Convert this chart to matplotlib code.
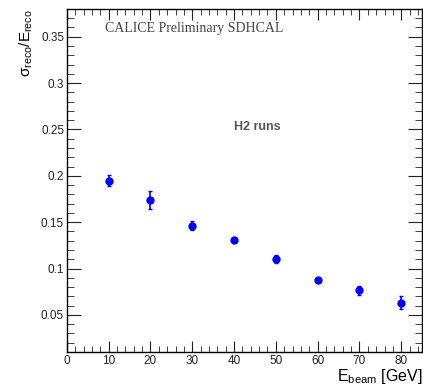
import numpy as np
import matplotlib
matplotlib.use('Agg')
import matplotlib.pyplot as plt
from matplotlib.ticker import MultipleLocator

# beam energy and relative resolution
energy = [10, 20, 30, 40, 50, 60, 70, 80]
resolution = [0.1946, 0.1738, 0.1463, 0.1312, 0.1108, 0.0880, 0.0767, 0.0633]
res_err = [0.0060, 0.0097, 0.0050, 0.0020, 0.0043, 0.0020, 0.0050, 0.0070]

plt.rcParams['font.family'] = ['Liberation Sans', 'DejaVu Sans']
plt.rcParams['mathtext.fontset'] = 'custom'
plt.rcParams['mathtext.rm'] = 'Liberation Sans'

fig = plt.figure(figsize=(4.23, 3.86), dpi=100)
ax = fig.add_axes([0.158, 0.088, 0.84, 0.889])

ax.errorbar(energy, resolution, yerr=res_err, fmt='o', color='#0000ff',
            markersize=5, elinewidth=1.2, capsize=1.5, capthick=1.0)

ax.set_xlim(0, 85)
ax.set_ylim(0.01, 0.38)
ax.xaxis.set_major_locator(MultipleLocator(10))
ax.xaxis.set_minor_locator(MultipleLocator(2))
ax.yaxis.set_minor_locator(MultipleLocator(0.01))
ax.set_yticks([0.05, 0.1, 0.15, 0.2, 0.25, 0.3, 0.35])
ax.set_yticklabels(['0.05', '0.1', '0.15', '0.2', '0.25', '0.3', '0.35'])
ax.tick_params(which='both', direction='in', top=True, right=True,
               labelsize=8.5, colors='#222222', pad=2)
ax.tick_params(axis='x', which='major', length=8)
ax.tick_params(axis='x', which='minor', length=4)
ax.tick_params(axis='y', which='major', length=10)
ax.tick_params(axis='y', which='minor', length=5)
for s in ax.spines.values():
    s.set_linewidth(1.0)

ax.set_xlabel(r'E$_{\mathregular{beam}}$ [GeV]', fontsize=11.5, loc='right', labelpad=0)
ax.set_ylabel(r'σ$_{\mathregular{reco}}$/E$_{\mathregular{reco}}$', fontsize=11,
              loc='top', labelpad=4)

ax.text(0.107, 0.942, 'CALICE Preliminary SDHCAL', transform=ax.transAxes,
        fontsize=10, family='Liberation Serif', color='#444444', va='center')
ax.text(0.47, 0.656, 'H2 runs', transform=ax.transAxes, fontsize=9,
        fontweight='bold', color='#555555', va='center')

fig.savefig('out.png', dpi=100)
